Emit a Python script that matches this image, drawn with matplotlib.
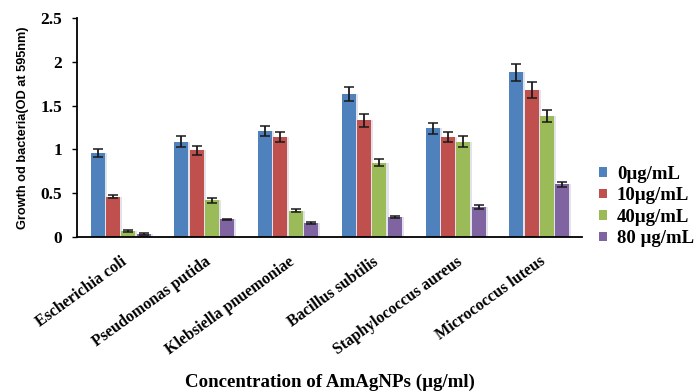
import matplotlib
matplotlib.use("Agg")
import matplotlib.pyplot as plt
import numpy as np

categories = ["Escherichia coli", "Pseudomonas putida", "Klebsiella pnuemoniae",
              "Bacillus subtilis", "Staphylococcus aureus", "Micrococcus luteus"]
series = ["0µg/mL", "10µg/mL", "40µg/mL", "80 µg/mL"]
values = [
    [0.96, 1.09, 1.21, 1.63, 1.24, 1.88],
    [0.46, 0.99, 1.14, 1.33, 1.14, 1.68],
    [0.07, 0.42, 0.30, 0.85, 1.09, 1.38],
    [0.03, 0.20, 0.16, 0.23, 0.34, 0.60],
]
errors = [
    [0.05, 0.06, 0.06, 0.08, 0.06, 0.10],
    [0.02, 0.05, 0.06, 0.07, 0.06, 0.09],
    [0.01, 0.03, 0.02, 0.04, 0.06, 0.07],
    [0.01, 0.01, 0.01, 0.01, 0.02, 0.03],
]
colors = ["#4F81BD", "#C0504D", "#9BBB59", "#8064A2"]
yticks = [0, 0.5, 1, 1.5, 2, 2.5]
ytick_labels = ["0", "0.5", "1", "1.5", "2", "2.5"]

W, H = 699, 391
fig = plt.figure(figsize=(W / 100, H / 100), dpi=100)
ax = fig.add_axes([77 / W, 1 - 237 / H, (582 - 77) / W, (237 - 18) / H])

serif = "Liberation Serif"
x = np.arange(len(categories))
w = 0.167
step = 0.183
for i, (s, v, e, c) in enumerate(zip(series, values, errors, colors)):
    pos = x + (i - 1.5) * step
    ax.bar(pos + 0.025, v, width=w, color="#e2e2ea", zorder=1)
    ax.bar(pos, v, width=w, color=c, label=s, zorder=2,
           yerr=e, error_kw=dict(ecolor="#1a1a1a", elinewidth=1.3, capsize=3.5,
                                 capthick=1.1, zorder=3))

ax.set_xlim(-0.52, 5.51)
ax.set_ylim(0, 2.5)
ax.set_yticks(yticks)
ax.set_yticklabels(ytick_labels, fontfamily=serif, fontweight="bold", fontsize=12.5)
ax.set_xticks(x)
ax.set_xticklabels(categories, rotation=36, ha="right", va="top", rotation_mode="anchor",
                   fontfamily=serif, fontweight="bold", fontsize=11.5)
ax.tick_params(axis="x", length=0, pad=12)
ax.tick_params(axis="y", length=3.5, width=1.0, pad=7, direction="out")
for sp in ["top", "right"]:
    ax.spines[sp].set_visible(False)
ax.spines["left"].set_linewidth(1.3)
ax.spines["bottom"].set_linewidth(1.3)

ax.set_ylabel("Growth od bacteria(OD at 595nm)", fontfamily="Liberation Sans",
              fontweight="bold", fontsize=9.2)
ax.yaxis.set_label_coords(-(77 - 29) / (582 - 77), 0.5)
fig.text(330 / W, 1 - 382 / H, "Concentration of AmAgNPs (µg/ml)", ha="center", va="center",
         fontfamily=serif, fontweight="bold", fontsize=13.6)

leg = ax.legend(loc="center left", bbox_to_anchor=(1.034, 0.14), frameon=False,
                prop=dict(family=serif, weight="bold", size=13.5),
                handlelength=0.4, handleheight=0.4, handletextpad=0.55,
                labelspacing=0.24, borderpad=0, borderaxespad=0)

fig.savefig("out.png", dpi=100)
